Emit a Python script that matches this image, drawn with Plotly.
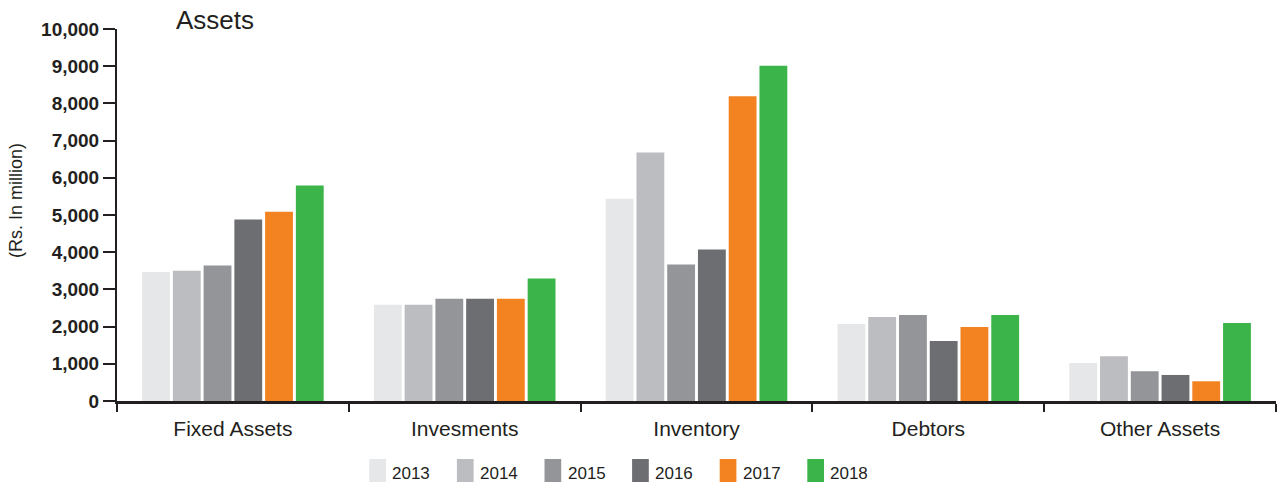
import plotly.graph_objects as go

# Asset categories and yearly values (Rs. in million)
categories = ["Fixed Assets", "Invesments", "Inventory", "Debtors", "Other Assets"]
years = ["2013", "2014", "2015", "2016", "2017", "2018"]
values_2013 = [3470, 2590, 5440, 2070, 1020]
values_2014 = [3500, 2590, 6680, 2260, 1200]
values_2015 = [3640, 2750, 3670, 2310, 800]
values_2016 = [4880, 2750, 4070, 1610, 700]
values_2017 = [5090, 2750, 8190, 1990, 530]
values_2018 = [5790, 3290, 9010, 2310, 2100]
series = [values_2013, values_2014, values_2015, values_2016, values_2017, values_2018]
colors = ["#e6e7e8", "#bcbdc0", "#939598", "#6d6e71", "#f38221", "#3bb54a"]
y_ticks = list(range(0, 10001, 1000))

INK = "#231f20"
W, H = 1278, 489
L, R, T, B = 117, 2, 29, 88
PW, PH = W - L - R, H - T - B
FONT = "Liberation Sans, Arial, Helvetica"


def px_x(p):
    return (p - L) / PW


def px_y(p):
    return (H - B - p) / PH


fig = go.Figure()
for year, vals, col in zip(years, series, colors):
    fig.add_trace(go.Bar(name=year, x=categories, y=vals,
                         marker=dict(color=col, line=dict(width=0)),
                         showlegend=False))

# Year key below the axis
key_left = 369.3
key_step = 87.6
for i, (year, col) in enumerate(zip(years, colors)):
    x0 = key_left + i * key_step
    fig.add_shape(type="rect", xref="paper", yref="paper",
                  x0=px_x(x0), x1=px_x(x0 + 16.7), y0=px_y(459), y1=px_y(482),
                  fillcolor=col, line=dict(width=0))
    fig.add_annotation(text=year, xref="paper", yref="paper",
                       x=px_x(x0 + 21), y=px_y(473), xanchor="left", yanchor="middle",
                       showarrow=False, font=dict(family=FONT, size=17, color=INK))

fig.add_annotation(text="Assets", xref="paper", yref="paper",
                   x=px_x(174), y=px_y(20), xanchor="left", yanchor="middle",
                   showarrow=False, font=dict(family=FONT, size=26, color=INK))
fig.add_annotation(text="(Rs. In million)", xref="paper", yref="paper",
                   x=px_x(16), y=px_y(201), xanchor="center", yanchor="middle",
                   textangle=-90, showarrow=False,
                   font=dict(family=FONT, size=18, color=INK))

fig.update_layout(
    width=W, height=H,
    margin=dict(l=L, r=R, t=T, b=B, pad=0),
    paper_bgcolor="white", plot_bgcolor="white",
    barmode="group", bargap=0.204, bargroupgap=0.095,
    showlegend=False,
)
fig.update_xaxes(
    type="category", tickson="boundaries", ticks="outside", ticklen=8,
    tickwidth=2, tickcolor=INK, showline=True, linewidth=2.5, linecolor=INK,
    showgrid=False, ticklabelstandoff=7,
    tickfont=dict(family=FONT, size=21, color=INK),
)
fig.update_yaxes(
    range=[0, 10000], tickvals=y_ticks, tickformat=",d", ticks="outside",
    ticklen=12, tickwidth=2, tickcolor=INK, showline=True, linewidth=2,
    linecolor=INK, showgrid=False, zeroline=False,
    tickfont=dict(family=FONT, size=19, color=INK, weight="bold"),
)

fig.write_html("out.html")
